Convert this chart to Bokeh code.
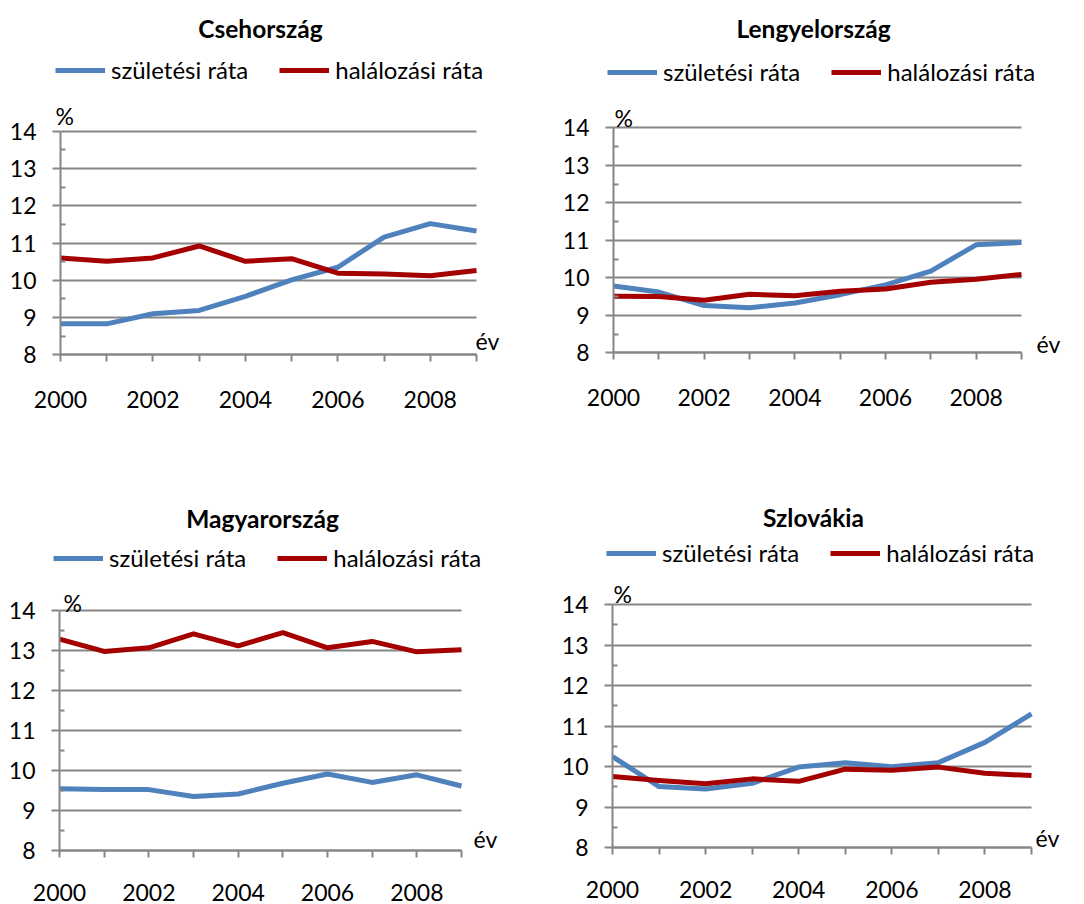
from bokeh.plotting import figure
from bokeh.models import Range1d, FixedTicker, Legend, LegendItem, Label
from bokeh.layouts import column, row
from bokeh.embed import file_html
from bokeh.resources import INLINE

years = [2000, 2001, 2002, 2003, 2004, 2005, 2006, 2007, 2008, 2009]
labeled_years = [2000, 2002, 2004, 2006, 2008]
unlabeled_years = [2001, 2003, 2005, 2007, 2009]

titles = ["Csehország", "Lengyelország", "Magyarország", "Szlovákia"]
series_names = ["születési ráta", "halálozási ráta"]

cz_birth = [8.83, 8.83, 9.10, 9.19, 9.57, 10.01, 10.35, 11.16, 11.52, 11.32]
cz_death = [10.60, 10.51, 10.60, 10.92, 10.51, 10.58, 10.19, 10.17, 10.12, 10.26]
pl_birth = [9.78, 9.62, 9.26, 9.20, 9.33, 9.55, 9.81, 10.18, 10.88, 10.94]
pl_death = [9.51, 9.50, 9.40, 9.56, 9.52, 9.64, 9.70, 9.88, 9.96, 10.09]
hu_birth = [9.54, 9.52, 9.52, 9.35, 9.41, 9.68, 9.91, 9.70, 9.89, 9.61]
hu_death = [13.28, 12.97, 13.06, 13.41, 13.11, 13.44, 13.06, 13.22, 12.96, 13.01]
sk_birth = [10.25, 9.51, 9.45, 9.59, 9.99, 10.10, 10.00, 10.10, 10.60, 11.30]
sk_death = [9.76, 9.66, 9.58, 9.70, 9.64, 9.94, 9.91, 9.99, 9.84, 9.78]

y_ticks = [8, 9, 10, 11, 12, 13, 14]
y_minor = [8.5, 9.5, 10.5, 11.5, 12.5, 13.5]

BLUE = "#4F81BD"
RED = "#A50000"
GRAY = "#868686"
FONT = "Lato"
FS = "23px"

W, H = 542, 452
# plot-area geometry per panel in figure pixels from top-left: (left, top, right, bottom)
frames = [(60, 130.7, 476, 354.3), (71, 127.3, 479, 352.3), (59, 157.7, 461, 398), (70, 152, 489, 395.3)]
# text positions in figure pixels from top-left
extras = [
    dict(title=(260, 28), legend=(55, 70), pct=(55, 115), ev=(475, 340), standoff=29),
    dict(title=(271, 28), legend=(65, 72), pct=(72, 117), ev=(494, 343), standoff=29),
    dict(title=(262, 66), legend=(53, 106), pct=(63, 150), ev=(473, 386), standoff=26),
    dict(title=(271, 65), legend=(64, 101), pct=(71, 141), ev=(493, 385), standoff=26),
]
data = [(cz_birth, cz_death), (pl_birth, pl_death), (hu_birth, hu_death), (sk_birth, sk_death)]


def make_panel(i):
    L, T, R, B = frames[i]
    ex = extras[i]
    x0, x1 = years[0], years[-1]
    y0, y1 = y_ticks[0], y_ticks[-1]
    sx = (R - L) / (x1 - x0)
    sy = (B - T) / (y1 - y0)
    xr = Range1d(x0 - L / sx, x1 + (W - R) / sx)
    yr = Range1d(y0 - (H - B) / sy, y1 + T / sy)
    p = figure(width=W, height=H, x_range=xr, y_range=yr,
               output_backend="svg", toolbar_location=None,
               min_border=0)
    p.outline_line_color = None
    p.background_fill_color = "white"
    p.border_fill_color = "white"

    xa = p.xaxis[0]
    xa.fixed_location = y0
    xa.bounds = (x0, x1)
    xa.ticker = FixedTicker(ticks=labeled_years, minor_ticks=unlabeled_years)
    xa.axis_line_color = GRAY
    xa.axis_line_width = 2
    xa.major_tick_line_color = GRAY
    xa.major_tick_line_width = 2
    xa.major_tick_out = 7
    xa.major_tick_in = 0
    xa.minor_tick_line_color = GRAY
    xa.minor_tick_line_width = 2
    xa.minor_tick_out = 7
    xa.minor_tick_in = 0
    xa.major_label_standoff = ex["standoff"]
    xa.major_label_text_font = FONT
    xa.major_label_text_font_size = FS
    xa.major_label_text_color = "black"

    ya = p.yaxis[0]
    ya.fixed_location = x0
    ya.bounds = (y0, y1)
    ya.ticker = FixedTicker(ticks=y_ticks, minor_ticks=y_minor)
    ya.axis_line_color = GRAY
    ya.axis_line_width = 2
    ya.major_tick_line_color = GRAY
    ya.major_tick_line_width = 2
    ya.major_tick_out = 8
    ya.major_tick_in = 0
    ya.minor_tick_line_color = GRAY
    ya.minor_tick_line_width = 2
    ya.minor_tick_in = 5
    ya.minor_tick_out = 0
    ya.major_label_standoff = 16
    ya.major_label_text_font = FONT
    ya.major_label_text_font_size = FS
    ya.major_label_text_color = "black"

    p.xgrid.grid_line_color = None
    p.ygrid.ticker = FixedTicker(ticks=y_ticks)
    p.ygrid.bounds = (y0, y1)
    p.ygrid.cross_bounds = (x0, x1)
    p.ygrid.grid_line_color = GRAY
    p.ygrid.grid_line_width = 2

    birth, death = data[i]
    rb = p.line(years, birth, line_color=BLUE, line_width=5, line_join="round")
    rd = p.line(years, death, line_color=RED, line_width=5, line_join="round")

    legend = Legend(items=[LegendItem(label=series_names[0], renderers=[rb]),
                           LegendItem(label=series_names[1], renderers=[rd])],
                    orientation="horizontal", location=(ex["legend"][0], H - ex["legend"][1] - 14),
                    padding=0, margin=0, spacing=31, label_standoff=6,
                    glyph_width=50, glyph_height=20, label_height=20,
                    border_line_color=None, background_fill_alpha=0,
                    label_text_font=FONT, label_text_font_size="24px", label_text_color="black")
    p.add_layout(legend, "center")

    p.add_layout(Label(x=ex["title"][0], y=H - ex["title"][1], x_units="screen", y_units="screen",
                       text=titles[i], text_font=FONT, text_font_style="bold", text_font_size="24.5px",
                       text_align="center", text_baseline="middle", text_color="black"))
    p.add_layout(Label(x=ex["pct"][0], y=H - ex["pct"][1], x_units="screen", y_units="screen",
                       text="%", text_font=FONT, text_font_size=FS,
                       text_align="left", text_baseline="middle", text_color="black"))
    p.add_layout(Label(x=ex["ev"][0], y=H - ex["ev"][1], x_units="screen", y_units="screen",
                       text="év", text_font=FONT, text_font_size=FS,
                       text_align="left", text_baseline="middle", text_color="black"))
    return p


panels = [make_panel(i) for i in range(4)]
layout = column(row(panels[0], panels[1]), row(panels[2], panels[3]))

open("out.html", "w").write(file_html(layout, INLINE))
